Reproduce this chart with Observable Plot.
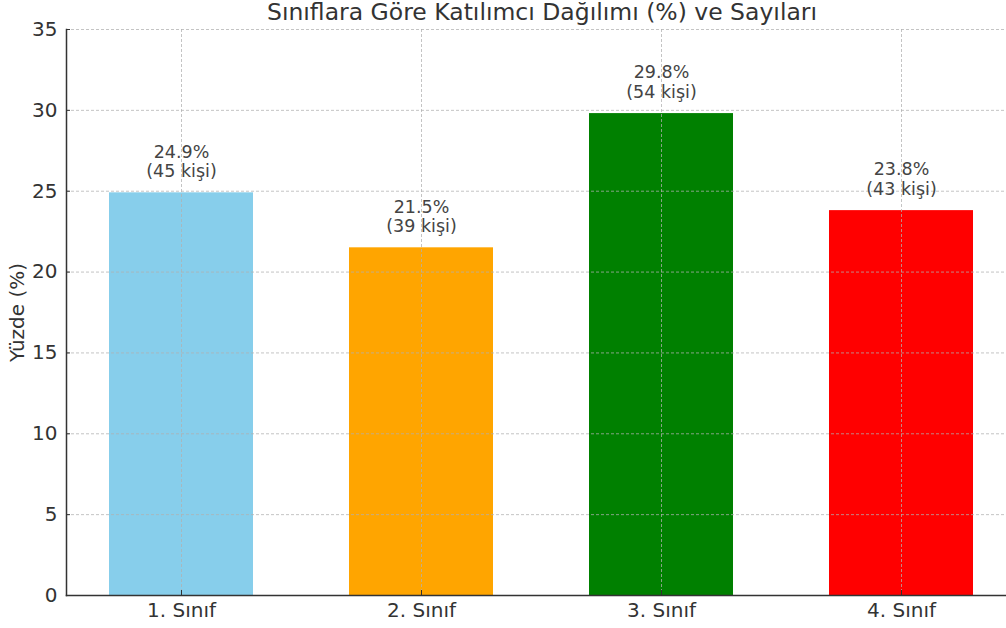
<!DOCTYPE html>
<html>
<head>
<meta charset="utf-8">
<script src="https://cdn.jsdelivr.net/npm/d3@7"></script>
<script src="https://cdn.jsdelivr.net/npm/@observablehq/plot@0.6"></script>
<style>
  html, body { margin: 0; padding: 0; background: #fff; }
  #wrap { position: relative; width: 1006px; height: 628px; overflow: hidden; font-family: "DejaVu Sans", sans-serif; }
  #title { position: absolute; left: 0; width: 1084px; top: 0px; text-align: center; font-size: 23.5px; color: #333; line-height: 24px; white-space: nowrap; }
  #chart { position: absolute; left: 0; top: 0; }
  #chart svg { overflow: hidden; }
</style>
</head>
<body>
<div id="wrap">
  <div id="chart"></div>
  <div id="title">Sınıflara Göre Katılımcı Dağılımı (%) ve Sayıları</div>
</div>
<script>
const categories = ["1. Sınıf", "2. Sınıf", "3. Sınıf", "4. Sınıf"];
const percents = [24.9, 21.5, 29.8, 23.8];
const counts = [45, 39, 54, 43];
const colors = ["skyblue", "orange", "green", "red"];
const yTicks = [0, 5, 10, 15, 20, 25, 30, 35];
const yLabel = "Yüzde (%)";

const data = categories.map((c, i) => ({
  cat: c, pct: percents[i], n: counts[i], color: colors[i],
  label: `${percents[i].toFixed(1)}%\n(${counts[i]} kişi)`
}));

const gridStyle = { stroke: "#b0b0b0", strokeOpacity: 0.75, strokeWidth: 1, strokeDasharray: "3,2" };

const chart = Plot.plot({
  width: 1006,
  height: 628,
  marginTop: 29,
  marginBottom: 33,
  marginLeft: 66,
  marginRight: 0,
  style: { fontFamily: "DejaVu Sans, sans-serif", fontSize: "20px", color: "#333", background: "white", overflow: "hidden" },
  x: { type: "band", domain: categories, range: [66, 1016.4], paddingInner: 0.4, paddingOuter: 0.18 },
  y: { domain: [0, 35], range: [595, 29] },
  marks: [
    Plot.barY(data, { x: "cat", y: "pct", fill: "color" }),
    Plot.gridY(yTicks, gridStyle),
    Plot.gridX(categories, gridStyle),
    Plot.text(data, {
      x: "cat", y: "pct", text: "label",
      lineAnchor: "bottom", lineHeight: 1.1, dy: -16,
      fontSize: 17.5, fill: "#444"
    }),
    Plot.axisY(yTicks, {
      tickSize: -4, tickPadding: 13, fontSize: 20, stroke: "#333",
      label: yLabel, labelAnchor: "center", labelArrow: "none", labelOffset: 57
    }),
    Plot.axisX({ tickSize: -5, tickPadding: 12, fontSize: 20, stroke: "#333", label: null }),
    Plot.frame({ anchor: "left", stroke: "#333", strokeWidth: 1.5 }),
    Plot.frame({ anchor: "bottom", stroke: "#333", strokeWidth: 1.5 })
  ]
});
document.getElementById("chart").appendChild(chart);
</script>
</body>
</html>
